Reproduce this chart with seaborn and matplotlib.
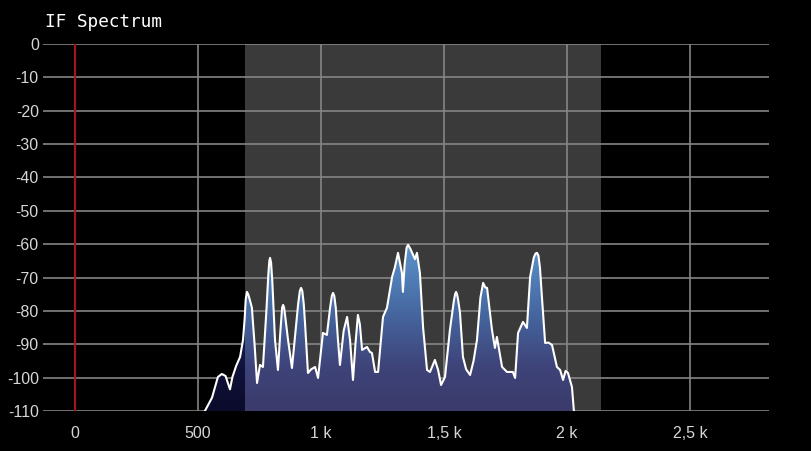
import numpy as np
import pandas as pd
import matplotlib
matplotlib.use("Agg")
import matplotlib.pyplot as plt
import seaborn as sns
from matplotlib.colors import LinearSegmentedColormap
from matplotlib.patches import PathPatch

# IF spectrum trace (Hz, dB)
freq_hz = [528, 557, 581, 597, 612, 630, 640, 655, 671, 683, 690, 694, 699, 704, 710, 719,
           730, 740, 752, 764, 778, 786, 790, 793, 797, 802, 813, 825, 835, 842, 846, 850,
           856, 866, 882, 894, 907, 914, 919, 924, 930, 935, 947, 960, 976, 988, 1008, 1024,
           1037, 1044, 1049, 1054, 1060, 1069, 1077, 1092, 1106, 1118, 1130, 1140, 1150,
           1158, 1167, 1187, 1199, 1207, 1220, 1232, 1252, 1268, 1289, 1300, 1313, 1322,
           1329, 1333, 1340, 1348, 1354, 1364, 1374, 1382, 1390, 1402, 1415, 1431, 1443,
           1463, 1476, 1488, 1504, 1524, 1540, 1545, 1549, 1553, 1557, 1565, 1577, 1590,
           1606, 1620, 1634, 1648, 1659, 1668, 1675, 1695, 1707, 1715, 1736, 1756, 1780,
           1789, 1801, 1821, 1837, 1850, 1865, 1872, 1878, 1884, 1890, 1898, 1911, 1925,
           1939, 1959, 1972, 1984, 1994, 2004, 2020, 2028]
level_db = [-110, -106, -99.8, -98.9, -99.5, -103.5, -99.8, -96.5, -93.8, -88.7, -82, -76.5,
            -74.3, -75, -76.5, -79, -90, -101.6, -96.2, -96.8, -80, -69, -65, -64.1, -65.5,
            -71, -88.7, -97.7, -86, -79, -78.2, -79, -82.5, -88.7, -97.1, -87.8, -78, -74,
            -73.1, -74, -78, -83.6, -98.6, -97.5, -96.8, -100.1, -86.6, -87.2, -79, -75.5,
            -74.6, -75.5, -79, -88.7, -96.2, -86, -81.8, -88.7, -100.7, -90, -81.2, -84,
            -91.7, -90.8, -92.3, -92.6, -98.3, -98.3, -81.8, -79.1, -69.8, -67, -62.6, -66,
            -68.6, -74.3, -66, -61, -60.2, -61.5, -63.2, -64.5, -62.6, -68.6, -85, -97.7,
            -98.3, -94.7, -97.7, -102.2, -99.8, -85.7, -77, -75, -74.3, -75, -76.5, -80.6,
            -93.8, -97.5, -99.2, -95, -88.7, -76, -71.6, -73, -73.1, -85.7, -91.1, -87.8,
            -96.8, -98.3, -98.3, -100.1, -86.6, -83.3, -85.1, -69.8, -64, -62.8, -62.6,
            -63.5, -67, -75.8, -89.6, -89.5, -90.2, -96.8, -97.7, -100.7, -98, -98.6,
            -102.8, -110]

passband = [690, 2140]          # filter passband (grey area)
carrier_hz = 0                  # red marker line
x_ticks = [0, 500, 1000, 1500, 2000, 2500]
x_tick_labels = ["0", "500", "1 k", "1,5 k", "2 k", "2,5 k"]
y_ticks = list(range(0, -120, -10))

df = pd.DataFrame({"freq": freq_hz, "level": level_db})

sns.set_style("dark")
plt.rcParams["font.family"] = ["Liberation Sans", "DejaVu Sans"]

XMIN, XMAX = -130, 2821
YMIN, YMAX = -110, 0

fig = plt.figure(figsize=(8.11, 4.51), dpi=100, facecolor="black")
ax = fig.add_axes([43 / 811, 1 - 411 / 451, (769 - 43) / 811, (411 - 44) / 451])
ax.set_facecolor("black")

# passband shading
ax.axvspan(passband[0], passband[1], color="#3a3a3a", zorder=0, lw=0)

# grid
for y in y_ticks:
    ax.axhline(y, color="#858585", lw=1.2, zorder=1)
for x in x_ticks[1:]:
    ax.axvline(x, color="#858585", lw=1.2, zorder=1)
ax.axvline(carrier_hz, color="#a3161a", lw=1.6, zorder=2)

# gradient fill under the trace
poly = ax.fill_between(df["freq"], df["level"], YMIN, color="none", lw=0)
clip = PathPatch(poly.get_paths()[0], transform=ax.transData, facecolor="none", edgecolor="none")
ax.add_patch(clip)
grad = np.linspace(0, 1, 256).reshape(-1, 1)
cmap_in = LinearSegmentedColormap.from_list(
    "inband", ["#3b3b6c", "#3e4378", "#445f98", "#4f7cb5", "#6199cf"])
cmap_out = LinearSegmentedColormap.from_list(
    "outband", ["#0b0b2b", "#10123a", "#1a2452", "#26366c", "#30447e"])
for (x0, x1), cm in [((XMIN, passband[0]), cmap_out), ((passband[0], XMAX), cmap_in)]:
    im = ax.imshow(grad, extent=[x0, x1, YMIN, -58], origin="lower", aspect="auto",
                   cmap=cm, zorder=3, interpolation="bilinear")
    im.set_clip_path(clip)

sns.lineplot(data=df, x="freq", y="level", ax=ax, color="white", lw=1.5,
             zorder=4, solid_joinstyle="round", estimator=None, sort=False)

ax.set_xlim(XMIN, XMAX)
ax.set_ylim(YMIN, YMAX)
ax.set_xticks(x_ticks)
ax.set_xticklabels(x_tick_labels)
ax.set_yticks(y_ticks)
ax.set_yticklabels([str(v) for v in y_ticks])
ax.tick_params(axis="x", colors="#858585", labelcolor="#d6d6d6", length=5, width=1.2,
               pad=6, labelsize=11.5, direction="out")
ax.tick_params(axis="y", length=0, pad=3, labelcolor="#d6d6d6", labelsize=11.5)
ax.set_xlabel("")
ax.set_ylabel("")
ax.grid(False)
for s in ax.spines.values():
    s.set_visible(False)

fig.text(45 / 811, 1 - 22 / 451, "IF Spectrum", color="white", fontsize=12.8,
         family="DejaVu Sans Mono", va="center", ha="left")

fig.savefig("out.png", dpi=100, facecolor="black")
